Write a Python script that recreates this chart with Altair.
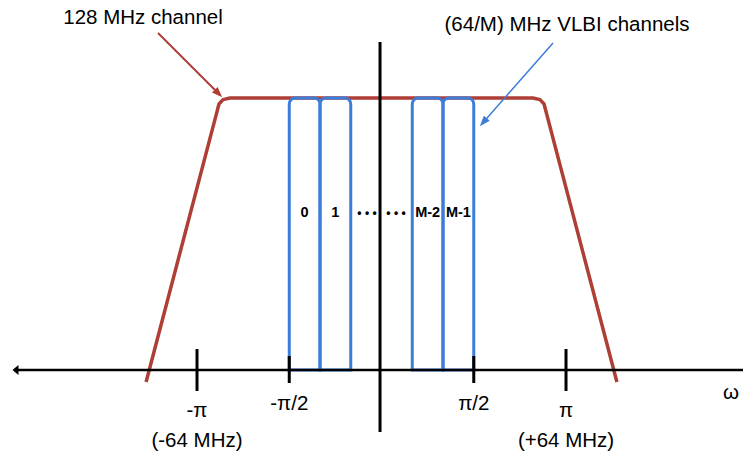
import altair as alt
import pandas as pd

# Coordinates: x in units of pi (omega/pi), y in filter amplitude (0 = axis, 1 = passband)
XDOM = [-2.0678, 1.9593]
YDOM = [-0.3088, 1.3603]

RED = "#AE3E36"
BLUE = "#3B7DD8"
FONT = "Liberation Sans"

# 128 MHz channel (red filter outline)
red_x = [-1.276, -0.892, -0.881, -0.859, -0.821, 0.821, 0.859, 0.881, 0.892, 1.276]
red_y = [-0.044, 0.949, 0.978, 0.994, 1.0, 1.0, 0.994, 0.978, 0.949, -0.044]

# VLBI sub-channels (edges in units of pi)
ch_left = [-0.5, -0.3333, 0.1667, 0.3333]
ch_right = [-0.3333, -0.1667, 0.3333, 0.5]
ch_top = [1.0, 1.0, 1.0, 1.0]

# channel labels
lab_x = [-0.4167, -0.25, 0.25, 0.4167]
lab_text = ["0", "1", "M-2", "M-1"]
lab_y = 0.577
dots_x = [-0.0786, 0.0786]

# tick marks
tick_x = [-1.0, -0.5, 0.5, 1.0]
tick_top = [0.0772, 0.0515, 0.0515, 0.0772]
tick_bot = [-0.0772, -0.0478, -0.0478, -0.0772]

# text annotations
ann_text = ["128 MHz channel", "(64/M) MHz VLBI channels", "-π", "(-64 MHz)", "-π/2",
            "π/2", "π", "(+64 MHz)", "ω"]
ann_x = [-1.2927, 1.0054, -1.0, -1.0, -0.5, 0.5, 1.0, 1.0, 1.894]
ann_y = [1.2941, 1.2684, -0.1507, -0.261, -0.125, -0.125, -0.1507, -0.261, -0.0846]

# pointer arrows: start -> head centre
arr_x = [-1.2114, 0.9295]
arr_y = [1.2390, 1.2022]
arr_x2 = [-0.8835, 0.5518]
arr_y2 = [1.0165, 0.9110]
arr_angle = [135, 221.3]
arr_color = [RED, BLUE]
arr_width = [2, 1.5]

xs = alt.Scale(domain=XDOM, nice=False, zero=False)
ys = alt.Scale(domain=YDOM, nice=False, zero=False)
X = lambda f: alt.X(f, type="quantitative", scale=xs, axis=None)
Y = lambda f: alt.Y(f, type="quantitative", scale=ys, axis=None)

red_df = pd.DataFrame({"x": red_x, "y": red_y, "o": range(len(red_x))})
red = alt.Chart(red_df).mark_line(color=RED, strokeWidth=3.5, strokeJoin="round",
                                  strokeCap="butt").encode(x=X("x"), y=Y("y"), order="o:Q")

ch_df = pd.DataFrame({"x": ch_left, "x2": ch_right, "y": ch_top, "y0": [0.0] * 4})
chans = alt.Chart(ch_df).mark_rect(stroke=BLUE, strokeWidth=3, fillOpacity=0, fill="white",
                                   cornerRadiusTopLeft=6, cornerRadiusTopRight=6).encode(
    x=X("x"), x2="x2:Q", y=Y("y"), y2="y0:Q")

haxis_df = pd.DataFrame({"x": [-1.992], "x2": [XDOM[1] + 0.1], "y": [0.0]})
haxis = alt.Chart(haxis_df).mark_rule(color="black", strokeWidth=2.5).encode(
    x=X("x"), x2="x2:Q", y=Y("y"))

vaxis_df = pd.DataFrame({"x": [-0.008], "y": [1.206], "y2": [-0.228]})
vaxis = alt.Chart(vaxis_df).mark_rule(color="black", strokeWidth=3).encode(
    x=X("x"), y=Y("y"), y2="y2:Q")

tick_df = pd.DataFrame({"x": tick_x, "y": tick_top, "y2": tick_bot})
ticks = alt.Chart(tick_df).mark_rule(color="black", strokeWidth=3).encode(
    x=X("x"), y=Y("y"), y2="y2:Q")

head_df = pd.DataFrame({"x": [-1.973], "y": [0.0]})
lhead = alt.Chart(head_df).mark_point(
    shape="M0,-1L1,0.2L-1,0.2Z", filled=True, color="black", opacity=1, size=100, angle=270
).encode(x=X("x"), y=Y("y"))

arr_df = pd.DataFrame({"x": arr_x, "y": arr_y, "x2": arr_x2, "y2": arr_y2,
                       "a": arr_angle, "c": arr_color, "w": arr_width})
arr_lines = alt.Chart(arr_df).mark_rule().encode(
    x=X("x"), y=Y("y"), x2="x2:Q", y2="y2:Q",
    color=alt.Color("c:N", scale=None), strokeWidth=alt.StrokeWidth("w:Q", scale=None))
arr_heads = alt.Chart(arr_df).mark_point(
    shape="M0,-1L0.75,1L-0.75,1Z", filled=True, opacity=1, size=110
).encode(x=X("x2"), y=Y("y2"), angle=alt.Angle("a:Q", scale=None),
         color=alt.Color("c:N", scale=None))

lab_df = pd.DataFrame({"x": lab_x, "y": [lab_y] * 4, "t": lab_text})
labels = alt.Chart(lab_df).mark_text(font=FONT, fontSize=14.5, fontWeight="bold",
                                     color="black", align="center", baseline="middle").encode(
    x=X("x"), y=Y("y"), text="t:N")

dots_df = pd.DataFrame({"x": dots_x, "y": [lab_y] * 2, "t": ["• • •"] * 2})
dots = alt.Chart(dots_df).mark_text(font=FONT, fontSize=12, fontWeight="bold",
                                    color="black", align="center", baseline="middle").encode(
    x=X("x"), y=Y("y"), text="t:N")

ann_df = pd.DataFrame({"x": ann_x, "y": ann_y, "t": ann_text})
anns = alt.Chart(ann_df).mark_text(font=FONT, fontSize=20.5, color="black",
                                   align="center", baseline="middle").encode(
    x=X("x"), y=Y("y"), text="t:N")

chart = alt.layer(red, chans, haxis, vaxis, ticks, lhead, arr_lines, arr_heads,
                  labels, dots, anns).properties(
    width=743, height=454, padding=0, autosize=alt.AutoSizeParams(type="none"),
    background="white"
).configure_view(stroke=None)

chart.save("out.html", embed_options={"renderer": "svg", "actions": False})
